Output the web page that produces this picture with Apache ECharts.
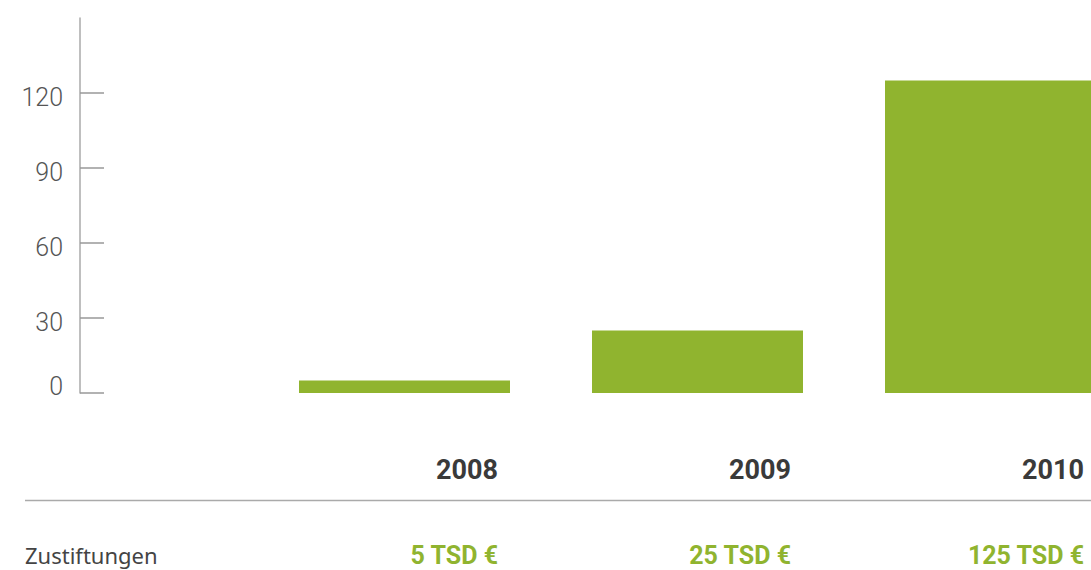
<!DOCTYPE html>
<html>
<head>
    <meta charset="utf-8">
    <title>Zustiftungen 2008 - 2010</title>
    <script src="https://cdn.jsdelivr.net/npm/echarts@6/dist/echarts.min.js"></script>
    <style>
        html, body { margin: 0; padding: 0; background: #fff; }
        #chart { width: 1091px; height: 570px; }
    </style>
</head>
<body>
<div id="chart"></div>
<script>
    // Daten
    var years = ['2008', '2009', '2010'];
    var zustiftungen = [5, 25, 125];          // in TSD €
    var yTicks = [0, 30, 60, 90, 120];
    var rowLabel = 'Zustiftungen';
    var unit = ' TSD €';

    var green = '#90b42f';
    var chart = echarts.init(document.getElementById('chart'), null, {renderer: 'svg'});

    var option = {
        animation: false,
        grid: {
            left: 258,
            width: 879,
            top: 18,
            bottom: 177,
            outerBoundsMode: 'none'
        },
        xAxis: {
            type: 'category',
            data: years,
            axisLine: {show: false},
            axisTick: {show: false},
            axisLabel: {show: false}
        },
        yAxis: {
            type: 'value',
            min: 0,
            max: 150,
            interval: 30,
            offset: 178,
            axisLine: {show: true, lineStyle: {color: '#aaaaaa', width: 1.5}},
            axisTick: {
                show: true,
                inside: true,
                length: 24,
                customValues: yTicks,
                lineStyle: {color: '#999999', width: 1.5}
            },
            axisLabel: {
                customValues: yTicks,
                margin: 17,
                formatter: function (v) {
                    return v === 0 ? '{z|0}' : '{n|' + v + '}';
                },
                rich: {
                    n: {fontFamily: 'Roboto', fontWeight: 300, fontSize: 25, color: '#555555', padding: [8, 0, 0, 0]},
                    z: {fontFamily: 'Roboto', fontWeight: 300, fontSize: 25, color: '#555555', padding: [0, 0, 14, 0]}
                }
            },
            splitLine: {show: false}
        },
        series: [{
            type: 'bar',
            data: zustiftungen,
            barWidth: 211,
            itemStyle: {color: green},
            label: {
                show: true,
                position: 'bottom',
                distance: 0,
                offset: [93.5, 34.5],
                align: 'right',
                formatter: function (p) {
                    return '{y|' + p.name + '}\n{v|' + p.value + unit + '}';
                },
                rich: {
                    y: {fontFamily: 'Roboto', fontWeight: 'bold', fontSize: 27, color: '#3a3a3a', lineHeight: 85, align: 'right'},
                    v: {fontFamily: 'Roboto', fontWeight: 'bold', fontSize: 25, color: green, lineHeight: 85, align: 'right'}
                }
            }
        }],
        graphic: [
            {
                type: 'line',
                shape: {x1: 25, y1: 500.5, x2: 1091, y2: 500.5},
                style: {stroke: '#aaaaaa', lineWidth: 1.5}
            },
            {
                type: 'text',
                left: 25,
                top: 544,
                style: {
                    text: rowLabel,
                    fontFamily: 'Noto Sans',
                    fontSize: 22,
                    fill: '#444444'
                }
            }
        ]
    };
    chart.setOption(option);
</script>
</body>
</html>
